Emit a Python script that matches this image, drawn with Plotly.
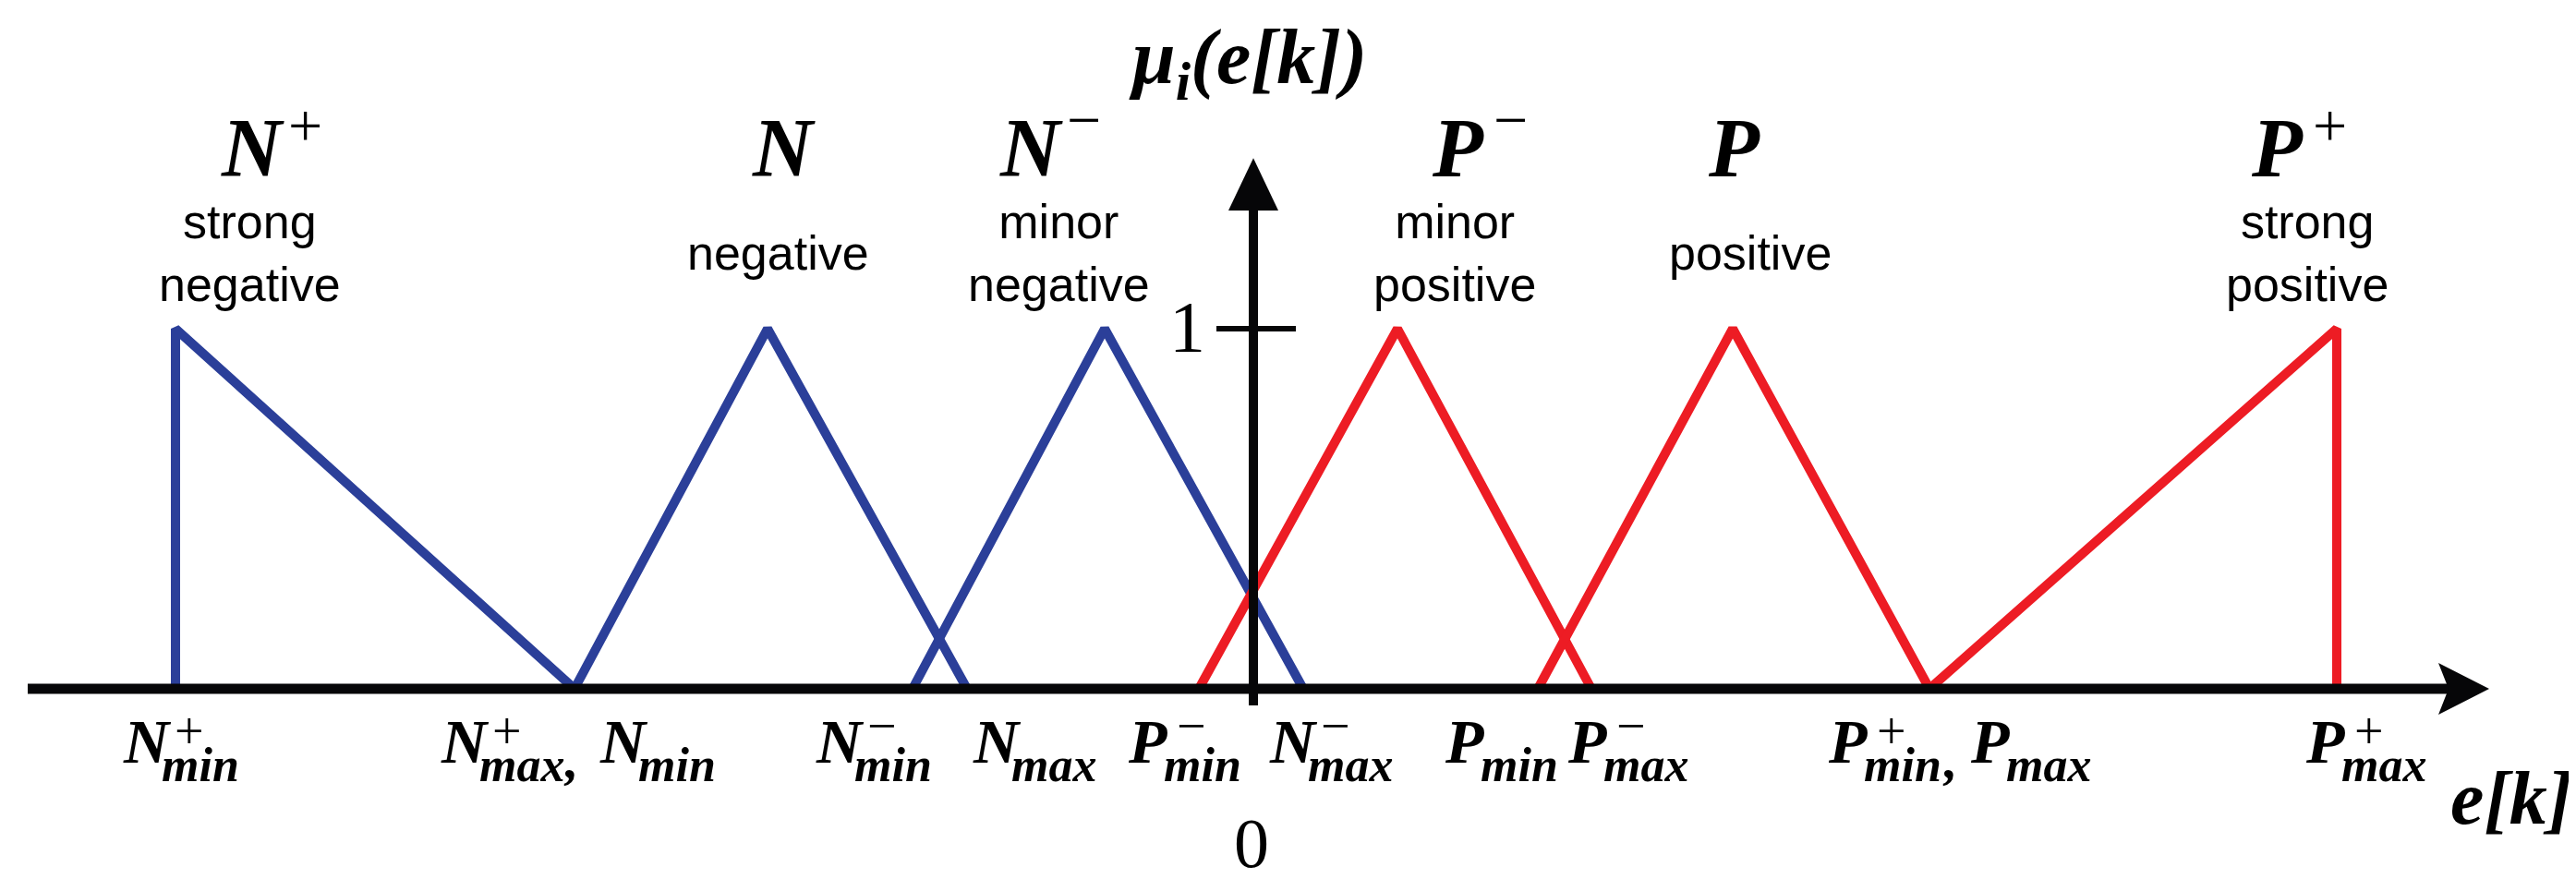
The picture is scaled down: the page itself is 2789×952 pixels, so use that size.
import plotly.graph_objects as go

# membership functions: breakpoints along e[k] (origin at 0) and membership grade
set_symbols = ["N", "N", "N", "P", "P", "P"]
set_sups = ["+", "", "\u2212", "\u2212", "", "+"]
set_names = ["strong<br>negative", "negative", "minor<br>negative",
             "minor<br>positive", "positive", "strong<br>positive"]

e_nplus = [-11.67, -11.67, -7.35]
e_n = [-7.35, -5.26, -3.10]
e_nminus = [-3.69, -1.61, 0.54]
e_pminus = [-0.59, 1.56, 3.66]
e_p = [3.08, 5.19, 7.32]
e_pplus = [7.32, 11.73, 11.73]
mu_shape = [0, 1, 0]

# labels under the e[k] axis: (symbol, superscript, subscript)
tick_parts = [
    [("N", "+", "min")],
    [("N", "+", "max"), ("N", "", "min")],
    [("N", "\u2212", "min")],
    [("N", "", "max")],
    [("P", "\u2212", "min")],
    [("N", "\u2212", "max")],
    [("P", "", "min")],
    [("P", "\u2212", "max")],
    [("P", "+", "min"), ("P", "", "max")],
    [("P", "+", "max")],
]

BLUE = "#2B3F99"
RED = "#ED1C24"
INK = "#060608"
SERIF = "Liberation Serif"
SANS = "Liberation Sans"
W, H = 2789, 952

fig = go.Figure()
for xs, col in [(e_nplus, BLUE), (e_n, BLUE), (e_nminus, BLUE),
                (e_pminus, RED), (e_p, RED), (e_pplus, RED)]:
    fig.add_trace(go.Scatter(x=xs, y=mu_shape, mode="lines",
                             line=dict(color=col, width=10), hoverinfo="skip"))

# axes with arrowheads (data coordinates)
x_start, x_tip, x_head, x_half = -13.27, 13.38, 0.55, 0.072
y_low, y_tip, y_head, y_half = -0.046, 1.474, 0.146, 0.27
fig.add_shape(type="line", x0=x_start, x1=x_tip - 0.44, y0=0, y1=0,
              line=dict(color=INK, width=11), layer="above")
fig.add_shape(type="path", layer="above", fillcolor=INK, line=dict(width=0),
              path=f"M {x_tip},0 L {x_tip - x_head},{x_half} L {x_tip - 0.44},0 "
                   f"L {x_tip - x_head},{-x_half} Z")
fig.add_shape(type="line", x0=0, x1=0, y0=y_low, y1=y_tip - y_head + 0.01,
              line=dict(color=INK, width=10), layer="above")
fig.add_shape(type="path", layer="above", fillcolor=INK, line=dict(width=0),
              path=f"M 0,{y_tip} L {-y_half},{y_tip - y_head} L {y_half},{y_tip - y_head} Z")
fig.add_shape(type="line", x0=-0.40, x1=0.46, y0=1, y1=1,
              line=dict(color=INK, width=6), layer="above")


def note(x, y, text, size, family=SERIF, weight="normal", style="normal", xanchor="center"):
    fig.add_annotation(x=x / W, y=1 - y / H, xref="paper", yref="paper", text=text,
                       showarrow=False, xanchor=xanchor, yanchor="middle", borderpad=0,
                       font=dict(family=family, size=size, color="black",
                                 weight=weight, style=style))


# set symbols and names above the curves
sym_x = [265, 840, 1108, 1570, 1869, 2457]
name_x = [262, 834, 1138, 1567, 1887, 2490]
for sym, sup, name, sx, nx in zip(set_symbols, set_sups, set_names, sym_x, name_x):
    note(sx, 152, sym, 90, weight="bold", style="italic")
    if sup:
        note(sx + 38, 128 if sup == "+" else 122, sup, 66, xanchor="left")
    note(nx, 266, name, 52, family=SANS)

# tick labels under the horizontal axis
tick_left = [[124], [468, 640], [874], [1044], [1212], [1365], [1555], [1688],
             [1970, 2124], [2487]]
sub_w = {"min": 84, "max": 90}
for parts, lefts in zip(tick_parts, tick_left):
    for i, ((sym, sup, sub), x) in enumerate(zip(parts, lefts)):
        w = 48 if sym == "N" else 45
        note(x, 795, sym, 68, weight="bold", style="italic", xanchor="left")
        if sup:
            note(x + w + 8, 784 if sup == "+" else 778, sup, 56, xanchor="left")
        note(x + w - 6, 820, sub, 52, weight="bold", style="italic", xanchor="left")
        if i == 0 and len(parts) > 1:
            note(x + w - 6 + sub_w[sub] + 1, 814, ",", 58, weight="bold", style="italic",
                 xanchor="left")

note(1347, 905, "0", 76)
note(1277, 345, "1", 78)
note(1343, 60, "\u03bc<sub>i</sub>(e[k])", 84, weight="bold", style="italic")
note(2711, 856, "e[k]", 82, weight="bold", style="italic")

fig.update_layout(
    width=W,
    height=H,
    margin=dict(l=0, r=0, t=0, b=0),
    paper_bgcolor="white",
    plot_bgcolor="white",
    showlegend=False,
    xaxis=dict(range=[-13.49, 14.40], visible=False, fixedrange=True),
    yaxis=dict(range=[-0.5487, 1.8923], visible=False, fixedrange=True),
)
fig.write_html("out.html")
